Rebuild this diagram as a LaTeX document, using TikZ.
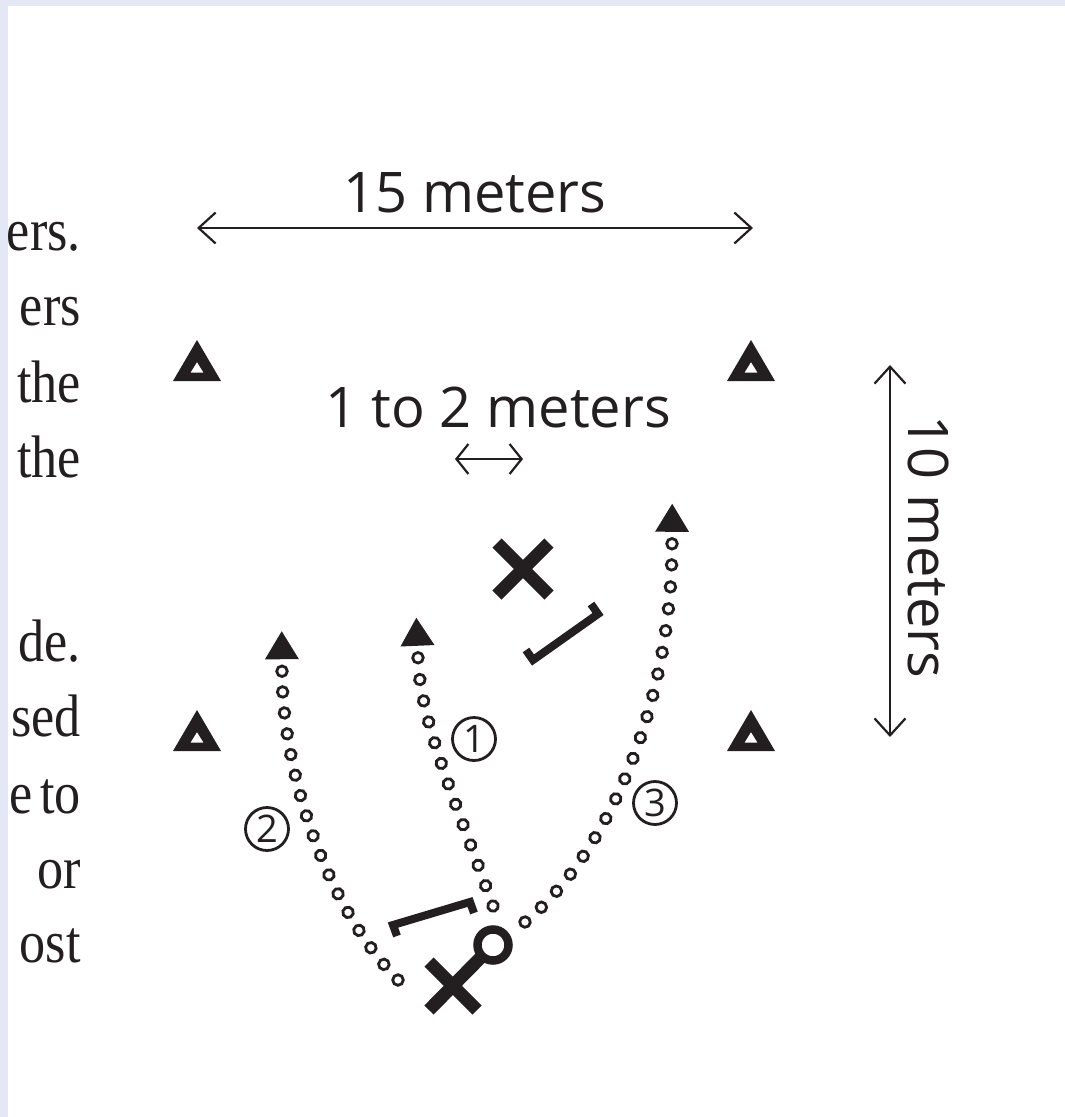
\documentclass[tikz,border=0pt]{standalone}
\usepackage{fontspec}
\setmainfont{Liberation Serif}
\newfontfamily\pagefont[FakeStretch=0.87,WordSpace=0.6]{Liberation Serif}
\newfontfamily\labelfont{Open Sans}
\usetikzlibrary{arrows.meta,calc,decorations.markings}
\definecolor{ink}{RGB}{35,31,32}
\definecolor{pageedge}{RGB}{228,232,244}
\tikzset{
  dim/.style={line width=2.2pt,ink,
    {Straight Barb[length=17pt,width=31pt]}-{Straight Barb[length=17pt,width=31pt]}},
  shortdim/.style={line width=2.2pt,ink,
    {Straight Barb[length=12pt,width=30pt]}-{Straight Barb[length=12pt,width=30pt]}},
  dimtext/.style={font=\labelfont\fontsize{56}{60}\selectfont,text=ink,inner sep=0pt},
  bodytext/.style={font=\pagefont\fontsize{60}{76}\selectfont,text=ink,anchor=base east,inner sep=0pt},
  numring/.style={circle,draw=ink,line width=2.8pt,minimum size=43pt,inner sep=0pt,
    text=ink,font=\labelfont\fontsize{38}{40}\selectfont},
  playerstroke/.style={ink,line width=13pt},
  stickstroke/.style={ink,line width=8pt,miter limit=4},
  dotring/.style={draw=ink,line width=2.8pt},
  runline/.style={decorate,decoration={markings,
    mark=between positions 0 and 0.98 step #1 with {\draw[dotring] (0,0) circle (5.3pt);},
    mark=at position 0.993 with {\draw[dotring] (2pt,0) circle (5.3pt);
      \fill[ink] (42pt,0pt) -- (14pt,17pt) -- (14pt,-17pt) -- cycle;}}},
  cone/.pic={\fill[ink,even odd rule] (0,21) -- (-24,-20) -- (24,-20) -- cycle
    (0,-1) -- (-6.5,-11.5) -- (6.5,-11.5) -- cycle;}
}

\begin{document}
\begin{tikzpicture}[x=1pt,y=1pt]
  \useasboundingbox (0,0) rectangle (1065,-1117);
  % text of the page beside the figure
  \foreach \word/\y in {ers./250,ers/325,the/402,the/477,de./661,sed/736,e to/813,or/888,ost/962}
    {\node[bodytext] at (81,-\y) {\word};}
  \fill[pageedge] (0,0) rectangle (1065,-6);
  \fill[pageedge] (0,0) rectangle (8,-1117);
  % cones
  \foreach \cx/\cy in {197/361,751/361,197/731,751/731}
    {\pic at (\cx,-\cy) {cone};}
  % field size
  \coordinate (wleft) at (197,-228);
  \coordinate (wright) at (753,-228);
  \draw[dim] (wleft) -- (wright);
  \node[dimtext,anchor=base] (widthlabel) at (475,-212) {15 meters};
  \coordinate (dtop) at (890,-365);
  \coordinate (dbottom) at (890,-737);
  \draw[dim] (dtop) -- (dbottom);
  \node[dimtext,rotate=-90] (depthlabel) at (929,-547) {10 meters};
  \coordinate (gleft) at (455,-459);
  \coordinate (gright) at (523,-459);
  \draw[shortdim] (gleft) -- (gright);
  \node[dimtext,anchor=base] (gaplabel) at (498,-427) {1 to 2 meters};
  % defender
  \coordinate (defender) at (523,-569);
  \draw[playerstroke] ($(defender)+(-26,-26)$) -- ($(defender)+(26,26)$)
    ($(defender)+(-26,26)$) -- ($(defender)+(26,-26)$);
  \draw[stickstroke] (526,-650) -- (533,-660) -- (598,-614) -- (591,-604);
  % attacker with ball
  \coordinate (attacker) at (453,-986);
  \coordinate (ball) at (493,-945);
  \draw[playerstroke] ($(attacker)+(-24,-24)$) -- (ball)
    ($(attacker)+(-24,24)$) -- ($(attacker)+(24,-24)$);
  \draw[ink,line width=8.5pt,fill=white] (ball) circle (15.5pt);
  \draw[stickstroke] (397,-936) -- (393,-925) -- (470,-902) -- (474,-913);
  % runs
  \path[runline=0.08333] (493,-906) .. controls (455,-800) and (420,-720) .. (418,-658);
  \path[runline=0.0625] (398,-980) .. controls (320,-900) and (282,-760) .. (282,-671);
  \path[runline=0.05263] (525,-922) .. controls (610,-852) and (672,-700) .. (672,-543);
  \node[numring] (runone) at (474,-739) {1};
  \node[numring] (runtwo) at (267,-829) {2};
  \node[numring] (runthree) at (655,-803) {3};
\end{tikzpicture}
\end{document}
